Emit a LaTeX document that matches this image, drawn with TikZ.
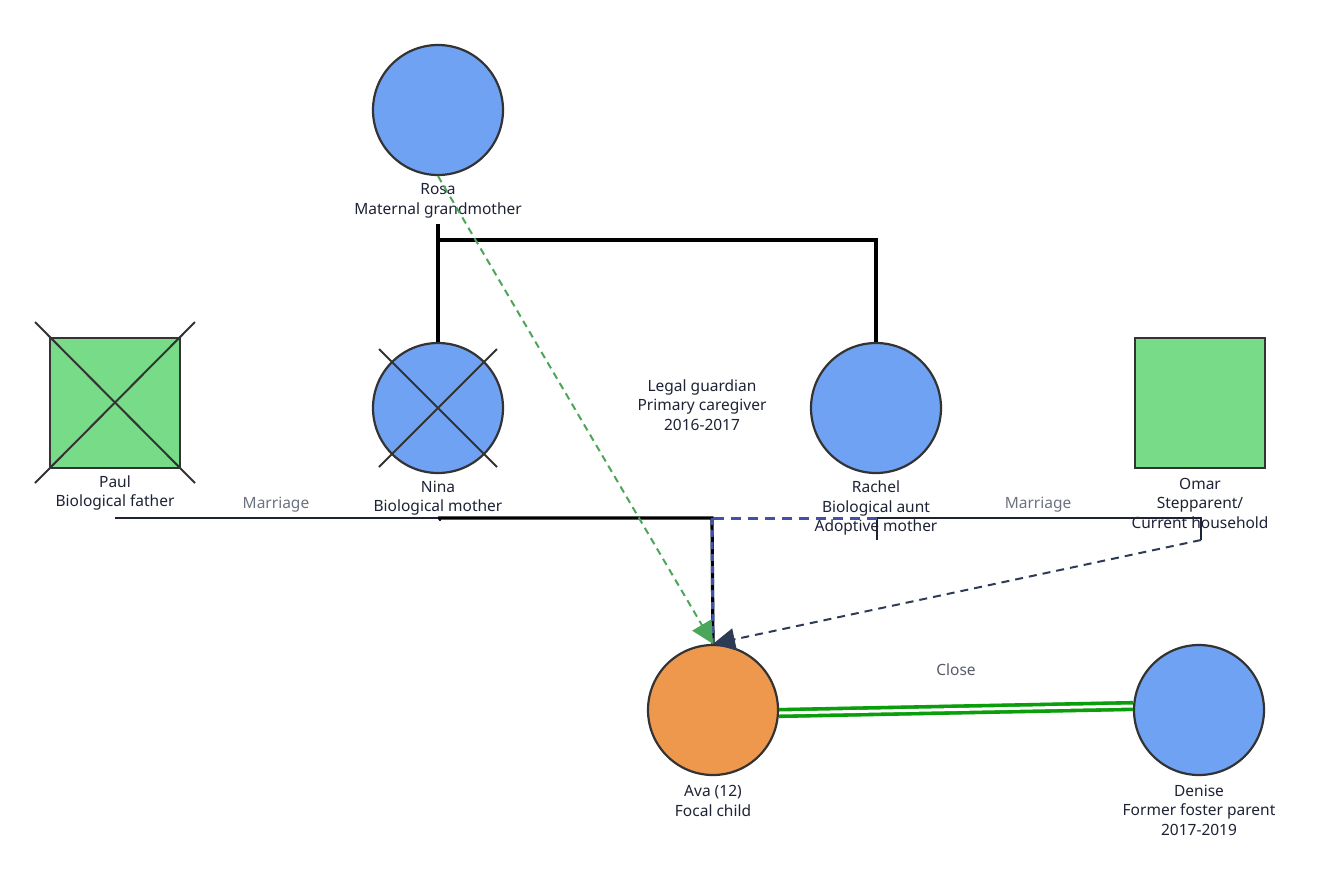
\documentclass[tikz,border=0pt]{standalone}
\usepackage{fontspec}
\setmainfont{Noto Sans}
\usetikzlibrary{arrows.meta,calc}
\definecolor{femfill}{HTML}{6FA2F3}
\definecolor{malefill}{HTML}{77DB88}
\definecolor{childfill}{HTML}{EE984E}
\definecolor{outline}{HTML}{333333}
\definecolor{ink}{HTML}{1E2235}
\definecolor{navy}{HTML}{2E3B55}
\definecolor{adopt}{HTML}{3F51A8}
\definecolor{grandgreen}{HTML}{4CA65A}
\definecolor{closegreen}{HTML}{0A9E0A}
\definecolor{muted}{HTML}{6B7280}
\tikzset{
  female/.style={circle,draw=outline,line width=2.2pt,fill=femfill,minimum size=130pt,inner sep=0pt},
  male/.style={rectangle,draw=outline,line width=2.2pt,fill=malefill,minimum size=130pt,inner sep=0pt},
  child/.style={female,fill=childfill},
  caption/.style={align=center,text=ink,font=\fontsize{15.5}{19.5}\selectfont,inner sep=0pt},
  linklabel/.style={text=muted,font=\fontsize{15.5}{18}\selectfont,inner sep=0pt},
  crossline/.style={draw=outline,line width=2pt},
  kin/.style={draw=black,line width=3.2pt},
  marriage/.style={draw=ink,line width=2pt},
  bigtip/.style={-{Triangle[length=22pt,width=22pt]}},
}
\begin{document}
\begin{tikzpicture}[x=1pt,y=-1pt]
\useasboundingbox (0,0) rectangle (1332,887);

% people
\node[female] (rosa) at (438,110) {};
\node[caption] (rosaL) at (438,201) {Rosa\\Maternal grandmother};

\node[male] (paul) at (115,403) {};
\node[caption] (paulL) at (115,493) {Paul\\Biological father};

\node[female] (nina) at (438,408) {};
\node[caption] (ninaL) at (438,498) {Nina\\Biological mother};

\node[female] (rachel) at (876,408) {};
\node[caption] (rachelL) at (876,508) {Rachel\\Biological aunt\\Adoptive mother};

\node[male] (omar) at (1200,403) {};
\node[caption] (omarL) at (1200,503) {Omar\\Stepparent/\\Current household};

\node[child] (ava) at (713,710) {};
\node[caption] (avaL) at (713,801) {Ava (12)\\Focal child};

\node[female] (denise) at (1199,710) {};
\node[caption] (deniseL) at (1199,810) {Denise\\Former foster parent\\2017-2019};

\node[caption] (guard) at (702,405) {Legal guardian\\Primary caregiver\\2016-2017};

% deceased crosses
\draw[crossline] ($(paul.center)+(-80,-81)$) -- ($(paul.center)+(80,80)$);
\draw[crossline] ($(paul.center)+(80,-81)$) -- ($(paul.center)+(-80,80)$);
\draw[crossline] ($(nina.center)+(-59,-59)$) -- ($(nina.center)+(59,59)$);
\draw[crossline] ($(nina.center)+(59,-59)$) -- ($(nina.center)+(-59,59)$);

% sibling line under Rosa
\coordinate (sibTop) at (438,224);
\coordinate (sibBar) at (438,240);
\draw[kin] (sibTop) -- (nina.north);
\draw[kin] (sibBar) -| (rachel.north);

% marriages
\coordinate (pm) at (115,518);
\coordinate (nm) at (440,521);
\draw[marriage] (pm) -- (440,518) -- (nm);
\node[linklabel] (m1) at (276,505) {Marriage};

\coordinate (rm) at (877,540);
\coordinate (om) at (1201,540);
\draw[marriage] (rm) |- (1201,518) -- (om);
\node[linklabel] (m2) at (1038,505) {Marriage};

% descent to Ava
\coordinate (drop) at (712,518);
\draw[kin] (438,518) -- (drop) -- (ava.north);
\coordinate (rachelDrop) at (877,518);
\draw[adopt,line width=3pt,dash pattern=on 10pt off 7pt] (rachelDrop) -- (drop);
\draw[adopt,line width=3pt,dash pattern=on 7pt off 5pt] (drop) -- (ava.north);

% guardianship arrows
\draw[grandgreen,line width=2pt,dash pattern=on 7pt off 5pt,bigtip] (rosa.south) -- (ava.north);
\draw[navy,line width=2pt,dash pattern=on 8pt off 6pt,bigtip] (om) -- (ava.north);

% close bond
\coordinate (closeA) at ($(ava.east)+(0,3)$);
\coordinate (closeD) at ($(denise.west)+(0,-4)$);
\draw[closegreen!40,line width=10pt] (closeA) -- (closeD);
\draw[closegreen,line width=3.6pt,double=white,double distance=3pt] (closeA) -- (closeD);
\node[linklabel,text=muted!80!black] (closeL) at (956,670) {Close};
\end{tikzpicture}
\end{document}
